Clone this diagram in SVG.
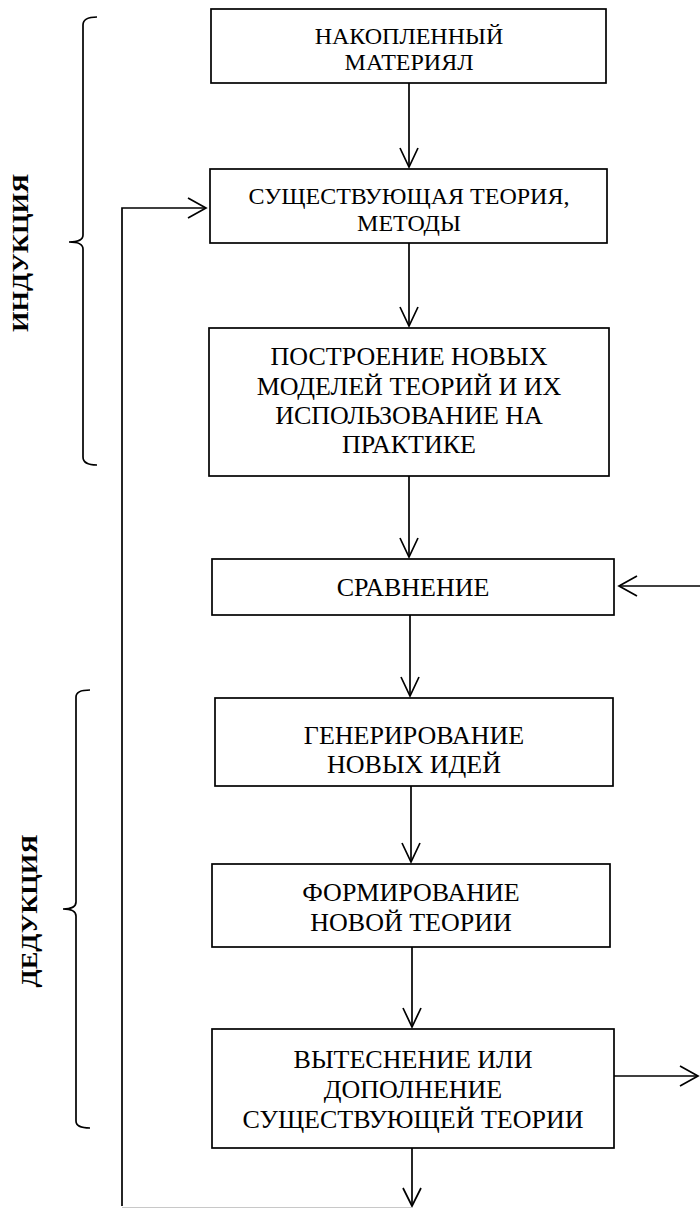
<svg xmlns="http://www.w3.org/2000/svg" width="700" height="1208" viewBox="0 0 700 1208">
  <style>
    .box { fill: #ffffff; stroke: #000000; stroke-width: 1.7; }
    .line { fill: none; stroke: #000000; stroke-width: 1.7; }
    .head { fill: none; stroke: #000000; stroke-width: 1.7; stroke-linejoin: miter; }
    .brace { fill: none; stroke: #000000; stroke-width: 1.7; }
    .t { font-family: "Liberation Serif", "Times New Roman", serif; fill: #000000; text-anchor: middle; }
    .s24 { font-size: 24px; }
    .s26 { font-size: 26px; }
    .lbl { font-family: "Liberation Serif", "Times New Roman", serif; font-weight: bold; font-size: 24px; text-anchor: middle; fill: #000000; }
  </style>

  <!-- side braces and stage labels -->
  <g id="induction">
    <path class="brace" d="M97,17 Q83,17 83,25 L83,235 Q83,242 69,242 Q83,242 83,249 L83,457 Q83,465 97,465"/>
    <text class="lbl" transform="translate(28,253) scale(1,1.1) rotate(-90)">ИНДУКЦИЯ</text>
  </g>
  <g id="deduction">
    <path class="brace" d="M90,690 Q76,690 76,697 L76,902 Q76,909 63,909 Q76,909 76,916 L76,1121 Q76,1128 90,1128"/>
    <text class="lbl" transform="translate(37,911) scale(1,1.1) rotate(-90)">ДЕДУКЦИЯ</text>
  </g>

  <!-- connectors -->
  <g id="connectors">
    <!-- main vertical flow -->
    <line class="line" x1="409" y1="83" x2="409" y2="167"/>
    <polyline class="head" points="400,148 409,167 418,148"/>
    <line class="line" x1="409" y1="243" x2="409" y2="326"/>
    <polyline class="head" points="400,307 409,326 418,307"/>
    <line class="line" x1="409" y1="476" x2="409" y2="557"/>
    <polyline class="head" points="400,538 409,557 418,538"/>
    <line class="line" x1="410" y1="615" x2="410" y2="696"/>
    <polyline class="head" points="401,677 410,696 419,677"/>
    <line class="line" x1="411" y1="786" x2="411" y2="862"/>
    <polyline class="head" points="402,843 411,862 420,843"/>
    <line class="line" x1="412" y1="947" x2="412" y2="1027"/>
    <polyline class="head" points="403,1008 412,1027 421,1008"/>
    <line class="line" x1="412" y1="1148" x2="412" y2="1206"/>
    <polyline class="head" points="403,1188 412,1206 421,1188"/>
    <!-- feedback loop back to the theory box -->
    <polyline class="line" points="412,1207.5 122,1207.5" style="stroke:#c8c8c8;stroke-width:1"/>
    <polyline class="line" points="122,1206 122,208 206,208"/>
    <polyline class="head" points="188,198 206,208 188,218"/>
    <!-- external input into comparison -->
    <line class="line" x1="700" y1="586" x2="619" y2="586"/>
    <polyline class="head" points="637,576 619,586 637,596"/>
    <!-- output from the last stage -->
    <line class="line" x1="614" y1="1076" x2="698" y2="1076"/>
    <polyline class="head" points="680,1066 698,1076 680,1086"/>
  </g>

  <!-- nodes -->
  <g id="node-material">
    <rect class="box" x="211" y="9" width="395" height="74"/>
    <text class="t s24" x="409" y="44"><tspan x="409" y="44">НАКОПЛЕННЫЙ</tspan><tspan x="409" y="70">МАТЕРИЯЛ</tspan></text>
  </g>
  <g id="node-theory">
    <rect class="box" x="210" y="169" width="397" height="74"/>
    <text class="t s24" x="409" y="204"><tspan x="409" y="204">СУЩЕСТВУЮЩАЯ ТЕОРИЯ,</tspan><tspan x="409" y="231">МЕТОДЫ</tspan></text>
  </g>
  <g id="node-models">
    <rect class="box" x="209" y="328" width="400" height="148"/>
    <text class="t s26" x="409" y="365"><tspan x="409" y="365">ПОСТРОЕНИЕ НОВЫХ</tspan><tspan x="409" y="394.5">МОДЕЛЕЙ ТЕОРИЙ И ИХ</tspan><tspan x="409" y="423.5">ИСПОЛЬЗОВАНИЕ НА</tspan><tspan x="409" y="453">ПРАКТИКЕ</tspan></text>
  </g>
  <g id="node-comparison">
    <rect class="box" x="212" y="559" width="402" height="56"/>
    <text class="t s26" x="413" y="596">СРАВНЕНИЕ</text>
  </g>
  <g id="node-ideas">
    <rect class="box" x="215" y="698" width="398" height="88"/>
    <text class="t s26" x="414" y="744"><tspan x="414" y="744">ГЕНЕРИРОВАНИЕ</tspan><tspan x="414" y="773">НОВЫХ ИДЕЙ</tspan></text>
  </g>
  <g id="node-new-theory">
    <rect class="box" x="212" y="864" width="398" height="83"/>
    <text class="t s26" x="411" y="901"><tspan x="411" y="901">ФОРМИРОВАНИЕ</tspan><tspan x="411" y="931">НОВОЙ ТЕОРИИ</tspan></text>
  </g>
  <g id="node-replacement">
    <rect class="box" x="212" y="1029" width="402" height="119"/>
    <text class="t s26" x="413" y="1068"><tspan x="413" y="1068">ВЫТЕСНЕНИЕ ИЛИ</tspan><tspan x="413" y="1098">ДОПОЛНЕНИЕ</tspan><tspan x="413" y="1128">СУЩЕСТВУЮЩЕЙ ТЕОРИИ</tspan></text>
  </g>
</svg>
